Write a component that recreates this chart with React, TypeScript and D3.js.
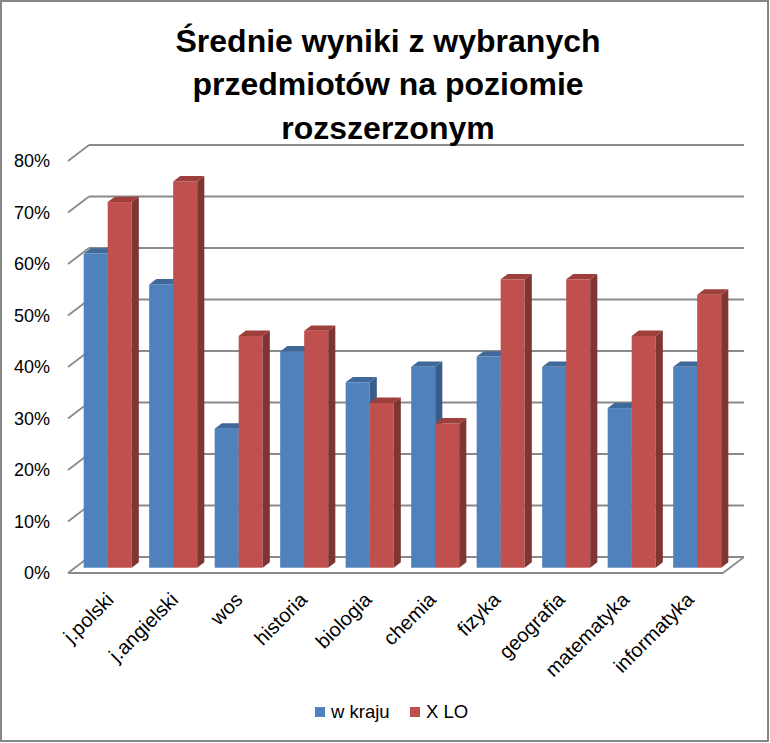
import React from 'react';
import * as d3 from 'd3';

const categories = ['j.polski', 'j.angielski', 'wos', 'historia', 'biologia', 'chemia', 'fizyka', 'geografia', 'matematyka', 'informatyka'];
const seriesNames = ['w kraju', 'X LO'];
const wKraju = [0.61, 0.55, 0.27, 0.42, 0.36, 0.39, 0.41, 0.39, 0.31, 0.39];
const xLO = [0.71, 0.75, 0.45, 0.46, 0.32, 0.28, 0.56, 0.56, 0.45, 0.53];
const yTicks = [0, 0.1, 0.2, 0.3, 0.4, 0.5, 0.6, 0.7, 0.8];
const titleLines = ['Średnie wyniki z wybranych', 'przedmiotów na poziomie', 'rozszerzonym'];

const W = 770;
const H = 743;
const FRONT_L = 68;
const FRONT_R = 723;
const DX = 21;
const DY = -16;
const F0 = 0.33;
const F1 = 0.67;

const colors: Record<string, { front: string; top: string; side: string }> = {
  'w kraju': { front: '#4F81BD', top: '#40699B', side: '#385D8A' },
  'X LO': { front: '#C0504D', top: '#9E3F3C', side: '#7F3633' },
};

const seriesData: Record<string, number[]> = { 'w kraju': wKraju, 'X LO': xLO };

export default function App() {
  const y = d3.scaleLinear().domain([0, 0.8]).range([573, 161]);
  const x = d3.scaleBand<string>().domain(categories).range([FRONT_L, FRONT_R]).paddingInner(0.267).paddingOuter(0.1335);
  const inner = d3.scaleBand<string>().domain(seriesNames).range([0, x.bandwidth()]);
  const xl = d3.scalePoint<string>().domain(categories).range([115, 695]);
  const fmt = d3.format('.0%');
  const grid = '#8A8A8A';
  const font = '"Liberation Sans", Arial, sans-serif';

  const bdx = (F1 - F0) * DX;
  const bdy = (F1 - F0) * DY;

  const bars: React.ReactNode[] = [];
  categories.forEach((c, i) => {
    seriesNames.forEach((s) => {
      const v = seriesData[s][i];
      const x0 = (x(c) as number) + (inner(s) as number) + F0 * DX;
      const w = inner.bandwidth();
      const yb = y(0) + F0 * DY;
      const yt = y(v) + F0 * DY;
      const col = colors[s];
      bars.push(
        <g key={c + s}>
          <rect x={x0} y={yt} width={w} height={yb - yt} fill={col.front} />
          <path d={`M${x0},${yt}L${x0 + bdx},${yt + bdy}L${x0 + w + bdx},${yt + bdy}L${x0 + w},${yt}Z`} fill={col.top} />
          <path d={`M${x0 + w},${yt}L${x0 + w + bdx},${yt + bdy}L${x0 + w + bdx},${yb + bdy}L${x0 + w},${yb}Z`} fill={col.side} />
        </g>
      );
    });
  });

  return (
    <svg width={W} height={H} style={{ position: 'absolute', left: 0, top: 0 }} fontFamily={font}>
      <rect x={1} y={1} width={767} height={740} fill="#fff" stroke="#868686" strokeWidth={2} />
      {yTicks.map((t) => (
        <g key={t}>
          <line x1={FRONT_L + DX} x2={FRONT_R + DX} y1={y(t) + DY} y2={y(t) + DY} stroke={grid} strokeWidth={1.8} />
          <line x1={FRONT_L} x2={FRONT_L + DX} y1={y(t)} y2={y(t) + DY} stroke={grid} strokeWidth={1.8} />
          <text x={50} y={y(t)} dy="0.35em" textAnchor="end" fontSize={18} fill="#000">{fmt(t)}</text>
        </g>
      ))}
      <line x1={FRONT_L} x2={FRONT_R} y1={y(0)} y2={y(0)} stroke={grid} strokeWidth={1.8} />
      <line x1={FRONT_R} x2={FRONT_R + DX} y1={y(0)} y2={y(0) + DY} stroke={grid} strokeWidth={1.8} />
      {bars}
      {titleLines.map((l, i) => (
        <text key={l} x={388} y={52 + i * 43.3} textAnchor="middle" fontSize={32} fontWeight="bold" fill="#000">{l}</text>
      ))}
      {categories.map((c) => (
        <text key={c} transform={`translate(${xl(c)},601) rotate(-45)`} textAnchor="end" fontSize={20} fill="#000">{c}</text>
      ))}
      {seriesNames.map((s, i) => {
        const lx = [315, 410][i];
        return (
          <g key={s}>
            <rect x={lx} y={707} width={10} height={10} fill={colors[s].front} />
            <text x={lx + 16} y={718} fontSize={18.5} fill="#000">{s}</text>
          </g>
        );
      })}
    </svg>
  );
}
